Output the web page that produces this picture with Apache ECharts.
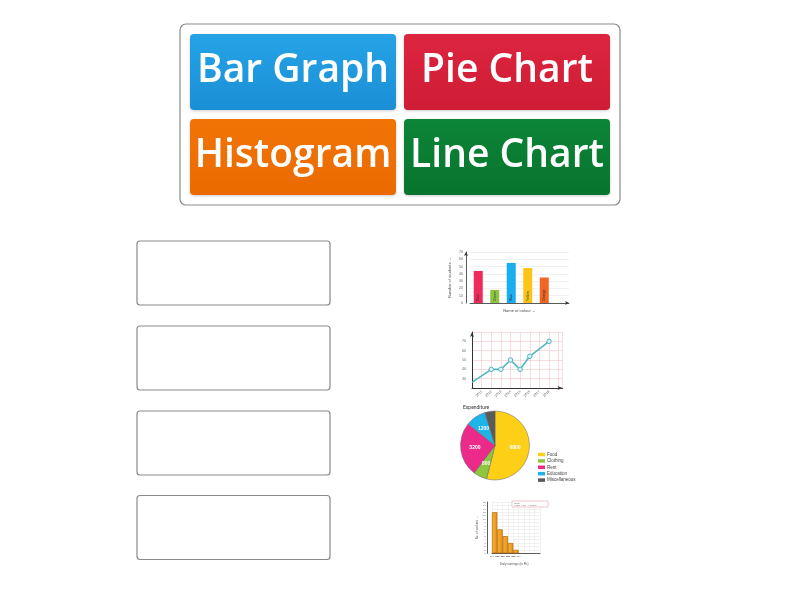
<!DOCTYPE html>
<html>
<head>
<meta charset="utf-8">
<script src="https://cdn.jsdelivr.net/npm/echarts@6/dist/echarts.min.js"></script>
<style>html,body{margin:0;padding:0;background:#fff}#c{width:800px;height:600px}</style>
</head>
<body>
<div id="c"></div>
<script>
// Buttons
var buttonLabels = ['Bar Graph', 'Pie Chart', 'Histogram', 'Line Chart'];
// Bar graph thumbnail
var barCategories = ['Red', 'Green', 'Blue', 'Yellow', 'Orange', ''];
var barValues = [44, 18, 55, 48, 35, null];
var barColors = ['#ee2a5a', '#8cc63f', '#18aef0', '#fcc419', '#f26522', '#fff'];
// Line chart thumbnail
var lineYears = [2010, 2012, 2013, 2014, 2015, 2016, 2018];
var lineValues = [26, 40, 40, 50, 40, 54, 70];
// Pie chart thumbnail
var pieNames = ['Food', 'Clothing', 'Rent', 'Education', 'Miscellaneous'];
var pieValues = [6800, 800, 3200, 1200, 600];
var pieColors = ['#fdd017', '#8dc63f', '#ec2a8a', '#1eb4ea', '#5a5a5a'];
// Histogram thumbnail
var histCategories = ['100-150', '150-200', '200-250', '250-300', '300-350', '', '', '', ''];
var histValues = [12, 7, 5, 3, 1, null, null, null, null];

var chart = echarts.init(document.getElementById('c'));

function grad(c1, c2) {
  return new echarts.graphic.LinearGradient(0, 0, 0, 1, [{offset: 0, color: c1}, {offset: 1, color: c2}]);
}
var btnGeo = [
  {x: 190, y: 34, c1: '#25a3e6', c2: '#1b8fd6'},
  {x: 404, y: 34, c1: '#dd2540', c2: '#cf1c35'},
  {x: 190, y: 119, c1: '#f27406', c2: '#ea6a00'},
  {x: 404, y: 119, c1: '#0c8538', c2: '#08742d'}
];
var graphics = [];
graphics.push({type: 'rect', shape: {x: 180, y: 24, width: 440, height: 181, r: 6},
  style: {fill: '#fff', stroke: '#8a8a8a', lineWidth: 1.2}, z: 1});
btnGeo.forEach(function (b, i) {
  graphics.push({type: 'rect', shape: {x: b.x, y: b.y, width: 206, height: 76, r: 4},
    style: {fill: grad(b.c1, b.c2), shadowBlur: 3, shadowColor: 'rgba(0,0,0,0.2)', shadowOffsetY: 1}, z: 2});
  graphics.push({type: 'text', x: b.x + 103, y: b.y + 37, z: 3,
    style: {text: buttonLabels[i], fill: '#fff', fontSize: 39, fontWeight: 600,
      fontFamily: '"Open Sans"', align: 'center', verticalAlign: 'middle'}});
});
[241, 326, 411, 495.5].forEach(function (y) {
  graphics.push({type: 'rect', shape: {x: 137, y: y, width: 193, height: 64, r: 3},
    style: {fill: '#fff', stroke: '#8a8a8a', lineWidth: 1.2}, z: 1});
});
graphics.push({type: 'text', x: 463, y: 405, z: 5,
  style: {text: 'Expenditure', fill: '#333', fontSize: 5, fontFamily: 'Roboto'}});
// histogram scale box
graphics.push({type: 'rect', shape: {x: 512, y: 501, width: 36, height: 6},
  style: {fill: '#fff', stroke: '#e6a0a8', lineWidth: 0.6}, z: 5});
graphics.push({type: 'text', x: 514, y: 502, z: 6,
  style: {text: 'Scale:\nY axis: 1 cm = 1 worker', fill: '#777', fontSize: 2.2, fontFamily: 'Roboto'}});

var small = {fontSize: 4, color: '#555', fontFamily: 'Roboto'};

var option = {
  animation: false,
  backgroundColor: '#fff',
  graphic: graphics,
  legend: {
    data: pieNames, orient: 'vertical', left: 533, top: 447,
    itemWidth: 7, itemHeight: 3.5, itemGap: 1.4, icon: 'rect',
    itemStyle: {borderWidth: 0},
    textStyle: {fontSize: 4.5, color: '#444', padding: [0, 0, 0, -3]}
  },
  grid: [
    {left: 470, top: 252, width: 99, height: 51},
    {left: 472, top: 332, width: 90.5, height: 56},
    {left: 492, top: 502, width: 48, height: 51.3}
  ],
  xAxis: [
    {gridIndex: 0, type: 'category', data: barCategories,
      axisLine: {lineStyle: {color: '#333', width: 0.8}, symbol: ['none', 'arrow'], symbolSize: [3, 4]},
      axisTick: {show: false}, axisLabel: {show: false},
      name: 'Name of colour \u2192', nameLocation: 'middle', nameGap: 6, nameTextStyle: small},
    {gridIndex: 1, type: 'value', min: 2010, max: 2019.4, interval: 1,
      axisLine: {lineStyle: {color: '#333', width: 1}, symbol: ['none', 'arrow'], symbolSize: [3, 5]},
      axisTick: {show: false},
      axisLabel: {rotate: 45, fontSize: 3.5, color: '#666', margin: 3,
        formatter: function (v) { return (v >= 2011 && v <= 2018) ? String(v) : ''; }},
      splitLine: {show: true, lineStyle: {color: '#f1c6c6', width: 0.6}}},
    {gridIndex: 2, type: 'category', data: histCategories,
      axisLine: {lineStyle: {color: '#333', width: 0.8}},
      axisTick: {show: false}, axisLabel: {show: true, fontSize: 2.5, color: '#666', margin: 2, interval: 0},
      splitLine: {show: true, interval: 0, lineStyle: {color: '#e4e4e4', width: 0.5}},
      name: 'Daily earnings (in Rs) \u2192', nameLocation: 'middle', nameGap: 9, nameTextStyle: {fontSize: 3, color: '#555'}}
  ],
  yAxis: [
    {gridIndex: 0, type: 'value', min: 0, max: 70, interval: 10, offset: 4,
      axisLine: {show: true, lineStyle: {color: '#333', width: 0.8}, symbol: ['none', 'arrow'], symbolSize: [3, 4]},
      axisTick: {show: false}, axisLabel: {fontSize: 3.5, color: '#666', margin: 3},
      splitLine: {show: true, lineStyle: {color: '#e2e2e2', width: 0.5}},
      name: 'Number of students \u2192', nameLocation: 'middle', nameRotate: 90, nameGap: 14, nameTextStyle: small},
    {gridIndex: 1, type: 'value', min: 20, max: 80, interval: 10,
      axisLine: {show: true, lineStyle: {color: '#333', width: 1}, symbol: ['none', 'arrow'], symbolSize: [3, 5]},
      axisTick: {show: false},
      axisLabel: {fontSize: 3.5, color: '#666', margin: 6,
        formatter: function (v) { return (v >= 30 && v <= 70) ? String(v) : ''; }},
      splitLine: {show: true, lineStyle: {color: '#f1c6c6', width: 0.6}}},
    {gridIndex: 2, type: 'value', min: 0, max: 15, interval: 1, offset: 4.3,
      axisLine: {show: true, lineStyle: {color: '#333', width: 0.8}},
      axisTick: {show: false}, axisLabel: {fontSize: 2.5, color: '#666', margin: 2},
      splitLine: {show: true, lineStyle: {color: '#e4e4e4', width: 0.5}},
      name: 'No. of workers \u2192', nameLocation: 'middle', nameRotate: 90, nameGap: 9, nameTextStyle: {fontSize: 3, color: '#555'}}
  ],
  series: [
    {type: 'bar', xAxisIndex: 0, yAxisIndex: 0, barWidth: 9,
      data: barValues.map(function (v, i) { return {value: v, itemStyle: {color: barColors[i]}}; }),
      label: {show: true, position: 'insideBottom', rotate: 90, fontSize: 3.5, color: '#333', distance: 2,
        align: 'left', verticalAlign: 'middle',
        formatter: function (p) { return barCategories[p.dataIndex]; }}},
    {type: 'line', xAxisIndex: 1, yAxisIndex: 1,
      data: lineYears.map(function (y, i) {
        return i === 0 ? {value: [y, lineValues[i]], symbol: 'none'} : {value: [y, lineValues[i]]};
      }),
      symbol: 'circle', symbolSize: 4.5,
      lineStyle: {color: '#4fb6c2', width: 1.6},
      itemStyle: {color: '#dff3f5', borderColor: '#4fb6c2', borderWidth: 1}},
    {type: 'pie', center: [495, 445.5], radius: 34.5, startAngle: 90, clockwise: true,
      data: pieNames.map(function (n, i) {
        return {name: n, value: pieValues[i], itemStyle: {color: pieColors[i]}};
      }),
      itemStyle: {borderColor: '#666', borderWidth: 0.5},
      label: {show: true, position: 'inside', color: '#fff', fontSize: 5, fontWeight: 'bold',
        formatter: function (p) { return String(p.value); }},
      labelLine: {show: false}},
    {type: 'bar', xAxisIndex: 2, yAxisIndex: 2, barWidth: '100%', barCategoryGap: '0%',
      data: histValues,
      itemStyle: {color: new echarts.graphic.LinearGradient(0, 0, 1, 0, [{offset: 0, color: '#f7b23b'}, {offset: 1, color: '#e8900f'}]),
        borderColor: '#a85f00', borderWidth: 0.6}}
  ]
};
chart.setOption(option);
</script>
</body>
</html>
